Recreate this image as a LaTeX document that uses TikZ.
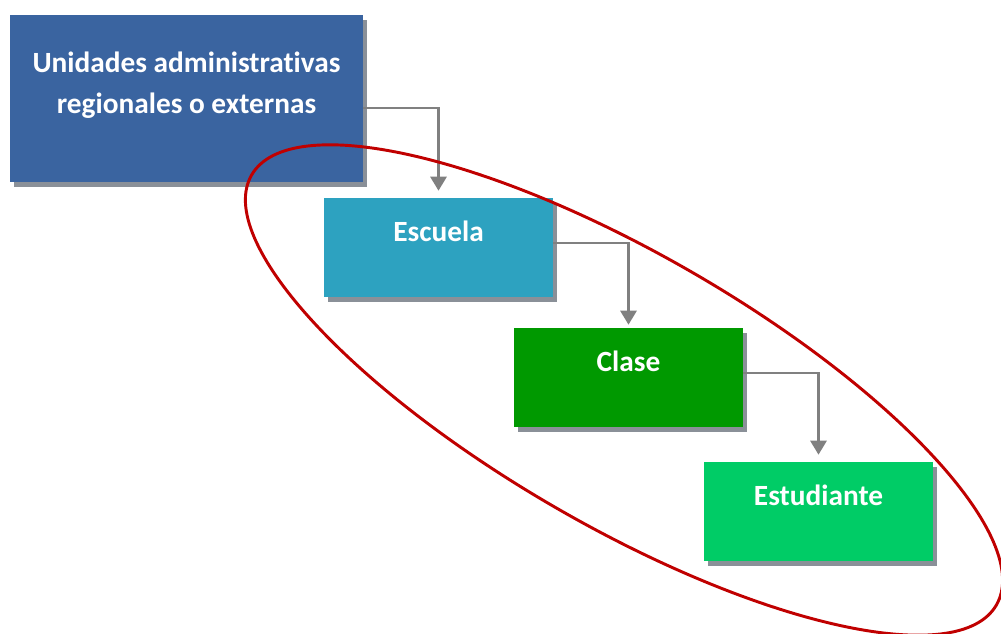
\documentclass[tikz,border=0pt]{standalone}
\usepackage{fontspec}
\setmainfont[Ligatures=NoCommon]{Carlito}
\usepackage{tikz}
\usepackage{xcolor}
\usetikzlibrary{arrows.meta, shadows}

\definecolor{azul}{HTML}{3A64A0}
\definecolor{turquesa}{HTML}{2DA2C0}
\definecolor{verde}{HTML}{009900}
\definecolor{verdeclaro}{HTML}{00CC66}
\definecolor{rojo}{HTML}{C00000}
\definecolor{gris}{HTML}{808080}
\definecolor{sombra}{HTML}{8A9098}

\begin{document}
\begin{tikzpicture}[x=0.75pt, y=-0.75pt,
        caja/.style={rectangle, inner sep=0pt, draw=none,
            drop shadow={shadow xshift=3pt, shadow yshift=-3.75pt, fill=sombra, opacity=1}},
        etiqueta/.style={anchor=base, text=white, font=\bfseries\fontsize{22}{30.75}\selectfont, align=center},
        flecha/.style={draw=gris, line width=2pt, -{Triangle[width=12pt, length=10.5pt]}},
        elipse/.style={draw=rojo, line width=2.2pt}]
        \clip (0,0) rectangle (1001,633);
        \useasboundingbox (0,0) rectangle (1001,633);

        \node[caja, fill=azul, minimum width=264.75pt, minimum height=125.25pt] at (186.5, 98.5) (unidades) {};
        \node[caja, fill=turquesa, minimum width=171.75pt, minimum height=74.25pt] at (438.5, 247.5) (escuela) {};
        \node[caja, fill=verde, minimum width=171.75pt, minimum height=74.25pt] at (628.5, 377.5) (clase) {};
        \node[caja, fill=verdeclaro, minimum width=171.75pt, minimum height=74.25pt] at (818.5, 511.5) (estudiante) {};

        \node[etiqueta] at (186.5, 113) (t-unidades) {Unidades administrativas\\regionales o externas};
        \node[etiqueta] at (438.5, 241) (t-escuela) {Escuela};
        \node[etiqueta] at (628.5, 371) (t-clase) {Clase};
        \node[etiqueta] at (818.5, 505) (t-estudiante) {Estudiante};

        \draw[flecha, shorten >=5.25pt] (unidades.east |- 0,108) -| (escuela.north);
        \draw[flecha, shorten >=2.25pt] (escuela.east |- 0,243) -| (clase.north);
        \draw[flecha, shorten >=5.25pt] (clase.east |- 0,373) -| (estudiante.north);

        \draw[elipse, rotate around={-30:(624,390)}] (624,390) ellipse (430 and 136);
    \end{tikzpicture}
\end{document}
